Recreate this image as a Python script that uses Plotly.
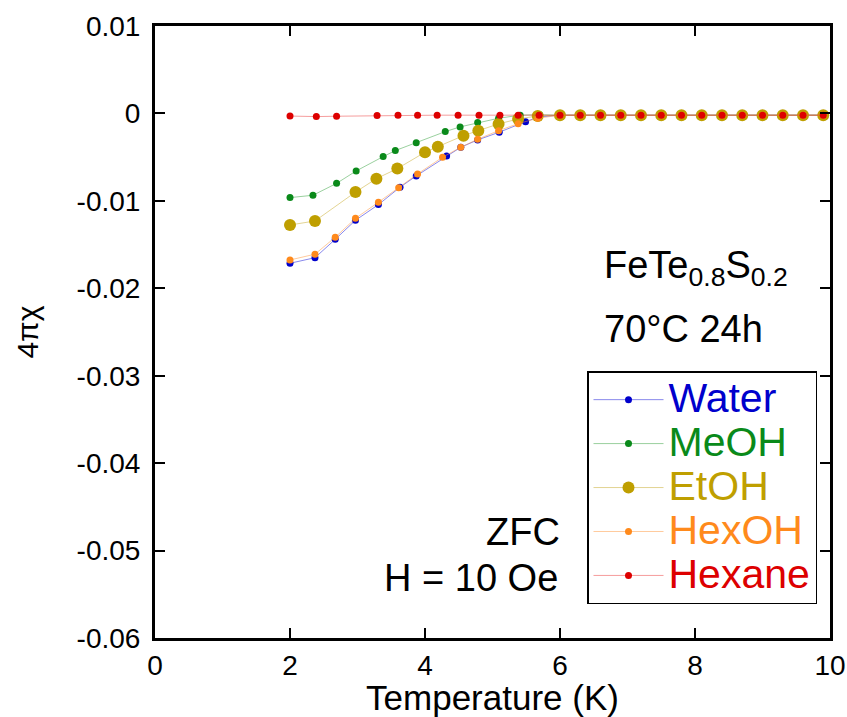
import plotly.graph_objects as go

# Zero-field-cooled susceptibility of FeTe0.8S0.2 annealed 24 h at 70 C in various solvents
flat_T = [6.0, 6.3, 6.6, 6.9, 7.2, 7.5, 7.8, 8.1, 8.4, 8.7, 9.0, 9.3, 9.6, 9.9]
flat_chi = [-0.0002] * len(flat_T)

water_T = [2.0, 2.37, 2.67, 2.97, 3.31, 3.63, 3.87, 4.32, 4.53, 4.78, 5.10, 5.49, 5.69] + flat_T
water_chi = [-0.01714, -0.0165, -0.0144, -0.01222, -0.01043, -0.00844, -0.00715, -0.00486,
             -0.00387, -0.00303, -0.00215, -0.00094, -0.0004] + flat_chi

meoh_T = [2.0, 2.34, 2.69, 2.98, 3.38, 3.56, 3.87, 4.30, 4.52, 4.78, 5.09, 5.41, 5.70] + flat_T
meoh_chi = [-0.00963, -0.00936, -0.0080, -0.00658, -0.00494, -0.00425, -0.00334, -0.00208,
            -0.00154, -0.00105, -0.00055, -0.0002, -0.00015] + flat_chi

etoh_T = [2.0, 2.37, 2.97, 3.28, 3.59, 4.00, 4.19, 4.57, 4.79, 5.09, 5.38, 5.67] + flat_T
etoh_chi = [-0.01276, -0.0123, -0.0090, -0.00746, -0.00631, -0.00444, -0.0038, -0.00254,
            -0.00197, -0.0012, -0.00063, -0.00029] + flat_chi

hexoh_T = [2.0, 2.37, 2.67, 2.97, 3.31, 3.61, 3.89, 4.26, 4.53, 4.78, 5.09, 5.38, 5.67] + flat_T
hexoh_chi = [-0.01676, -0.0161, -0.01417, -0.0120, -0.01016, -0.00849, -0.00692, -0.00501,
             -0.00387, -0.00295, -0.00197, -0.00117, -0.00055] + flat_chi

hexane_T = [2.0, 2.39, 2.69, 3.29, 3.60, 3.89, 4.18, 4.49, 4.80, 5.11, 5.38, 5.69] + flat_T
hexane_chi = [-0.0003, -0.00036, -0.00032, -0.00025, -0.0002, -0.0002, -0.0002, -0.0002,
              -0.0002, -0.0002, -0.0002, -0.0002] + flat_chi

x_ticks = [0, 2, 4, 6, 8, 10]
x_ticktext = ["0", "2", "4", "6", "8", "10"]
y_ticks = [0.01, 0, -0.01, -0.02, -0.03, -0.04, -0.05, -0.06]
y_ticktext = ["0.01", "0", "-0.01", "-0.02", "-0.03", "-0.04", "-0.05", "-0.06"]

FONT = "Liberation Sans, Arial, sans-serif"

series = [
    ("Water", water_T, water_chi, "#0000cc", "rgba(40,40,220,0.55)", 7),
    ("MeOH", meoh_T, meoh_chi, "#0a8a1a", "rgba(30,150,40,0.45)", 7),
    ("EtOH", etoh_T, etoh_chi, "#bf9f00", "rgba(200,170,40,0.5)", 12),
    ("HexOH", hexoh_T, hexoh_chi, "#ff8a1c", "rgba(255,150,60,0.5)", 7),
    ("Hexane", hexane_T, hexane_chi, "#dd0000", "rgba(235,60,60,0.5)", 7),
]

fig = go.Figure()
for name, xs, ys, mcol, lcol, msize in series:
    fig.add_trace(go.Scatter(
        x=xs, y=ys, mode="lines+markers",
        name=f"<span style='color:{mcol};font-size:41px'>{name}</span>",
        line=dict(color=lcol, width=1),
        marker=dict(color=mcol, size=msize, line=dict(width=0)),
    ))

axis_common = dict(
    showline=True, linecolor="black", linewidth=3, mirror="ticks",
    ticks="inside", ticklen=10, tickwidth=2, tickcolor="black",
    showgrid=False, zeroline=False, automargin=False,
    tickfont=dict(family=FONT, size=28, color="black"),
)

fig.update_layout(
    width=847, height=717,
    margin=dict(l=155, r=17, t=26, b=79),
    paper_bgcolor="white", plot_bgcolor="white",
    font=dict(family=FONT, color="black"),
    xaxis=dict(range=[0, 10], tickvals=x_ticks, ticktext=x_ticktext,
               title=dict(text="Temperature (K)", font=dict(size=35), standoff=15),
               **axis_common),
    yaxis=dict(range=[-0.06, 0.01], tickvals=y_ticks, ticktext=y_ticktext,
               ticklabelstandoff=6,
               title=dict(text="4πχ", font=dict(size=30), standoff=30),
               **axis_common),
    showlegend=True,
    legend=dict(
        x=0.64, y=0.436, xanchor="left", yanchor="top",
        bgcolor="white", bordercolor="black", borderwidth=1.5,
        font=dict(family=FONT, size=31.5, color="black"),
        itemwidth=70, tracegroupgap=0,
    ),
    annotations=[
        dict(x=6.62, y=-0.0177, xref="x", yref="y", xanchor="left", yanchor="middle",
             text="FeTe<sub>0.8</sub>S<sub>0.2</sub>", showarrow=False,
             font=dict(family=FONT, size=38, color="black")),
        dict(x=6.62, y=-0.0247, xref="x", yref="y", xanchor="left", yanchor="middle",
             text="70°C 24h", showarrow=False,
             font=dict(family=FONT, size=38, color="black")),
        dict(x=6.03, y=-0.0479, xref="x", yref="y", xanchor="right", yanchor="middle",
             text="ZFC", showarrow=False,
             font=dict(family=FONT, size=38, color="black")),
        dict(x=6.0, y=-0.0531, xref="x", yref="y", xanchor="right", yanchor="middle",
             text="H = 10 Oe", showarrow=False,
             font=dict(family=FONT, size=38, color="black")),
    ],
)

fig.write_html(
    "out.html",
    post_script="document.body.style.margin='0';document.body.style.overflow='hidden';",
)
